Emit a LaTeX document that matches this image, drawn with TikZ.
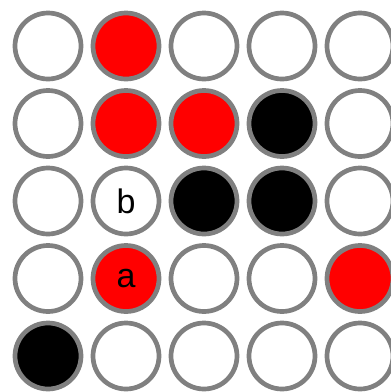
\documentclass[tikz,border=0pt]{standalone}
\usepackage{fontspec}
\setmainfont{Liberation Sans}
\definecolor{ringgray}{RGB}{128,128,128}
\definecolor{purered}{RGB}{255,0,0}
\tikzset{
  disc/.style={circle, draw=ringgray, line width=4.7pt, minimum size=66pt, inner sep=0pt, font=\fontsize{34}{34}\selectfont}
}
\begin{document}
\begin{tikzpicture}[x=1pt,y=1pt]
\useasboundingbox (0,0) rectangle (391,-392);
\foreach \r/\row in {1/{white,purered,white,white,white},2/{white,purered,purered,black,white},3/{white,white,black,black,white},4/{white,purered,white,white,purered},5/{black,white,white,white,white}}{
  \foreach \s [count=\c] in \row {
    \node[disc, fill=\s] (c-\r-\c) at ({48+78*(\c-1)},{-(46+77.5*(\r-1))}) {};
  }
}
\node at (c-3-2) {\fontsize{34}{34}\selectfont b};
\node at (c-4-2) {\fontsize{34}{34}\selectfont a};
\end{tikzpicture}
\end{document}
